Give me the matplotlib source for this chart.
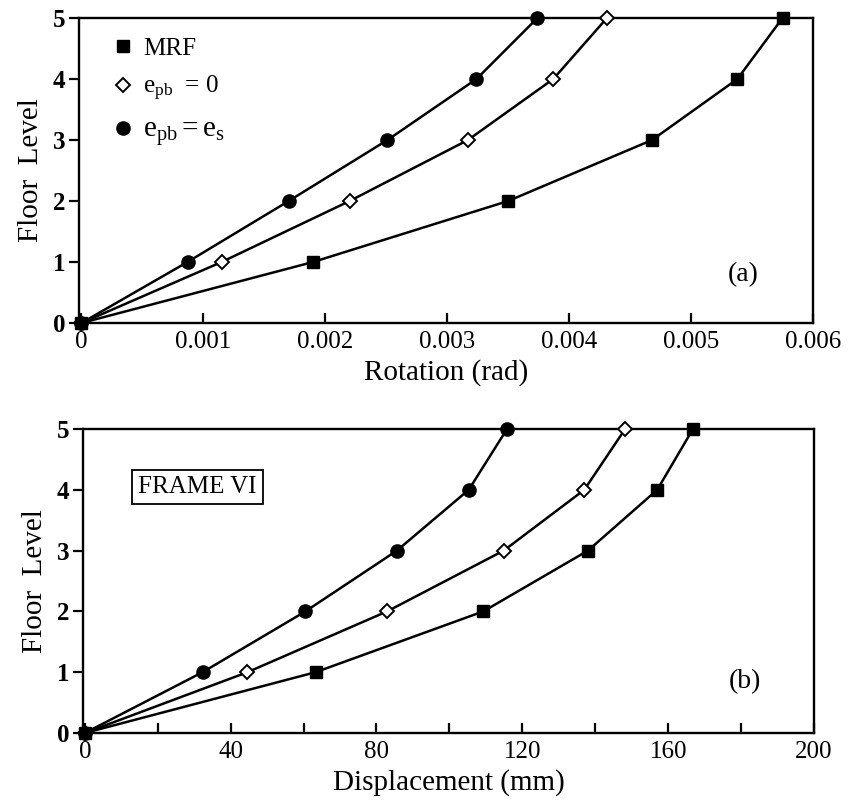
import matplotlib
matplotlib.use('Agg')
import matplotlib.pyplot as plt
from matplotlib.lines import Line2D
from matplotlib.ticker import MultipleLocator

plt.rcParams['font.family'] = ['Liberation Serif', 'DejaVu Serif']
plt.rcParams['mathtext.fontset'] = 'custom'
plt.rcParams['mathtext.rm'] = 'Liberation Serif'
plt.rcParams['mathtext.it'] = 'Liberation Serif:italic'

# ---- data ----
floors = [0, 1, 2, 3, 4, 5]

# (a) rotation (rad)
rot_mrf = [0, 0.00190, 0.00350, 0.00468, 0.00538, 0.00575]
rot_e0 = [0, 0.00115, 0.00220, 0.00317, 0.00387, 0.00431]
rot_es = [0, 0.00087, 0.00170, 0.00251, 0.00324, 0.00374]

# (b) displacement (mm)
disp_mrf = [0, 63.3, 109.3, 138.0, 157.0, 166.8]
disp_e0 = [0, 44.6, 82.9, 114.9, 137.0, 148.2]
disp_es = [0, 32.3, 60.5, 85.6, 105.3, 115.8]

labels = ['MRF', r'$\mathregular{e_{pb}}$  = 0', r'$\mathregular{e_{pb} = e_s}$']
markers = ['s', 'D', 'o']
mstyle = [dict(ms=8, mfc='black'), dict(ms=7, mfc='white', mew=1.4),
          dict(ms=9.5, mfc='black')]

fig = plt.figure(figsize=(8.5, 8.08), dpi=100)
W, H = 850, 808
ax1 = fig.add_axes([79 / W, 1 - 323 / H, (813 - 79) / W, (323 - 18) / H])
ax2 = fig.add_axes([83 / W, 1 - 733 / H, (814 - 83) / W, (733 - 429) / H])


def draw(ax, series):
    for xs, m, st in zip(series, markers, mstyle):
        ax.plot(xs, floors, color='black', lw=1.8, marker=m, mec='black',
                clip_on=False, zorder=3, **st)
    ax.set_ylim(0, 5)
    ax.set_yticks(floors)
    ax.set_ylabel('Floor  Level', fontsize=21, labelpad=6)
    for s in ax.spines.values():
        s.set_linewidth(1.7)
    ax.tick_params(axis='y', direction='out', length=7, width=1.6,
                   labelsize=18, pad=3)
    ax.tick_params(axis='x', direction='in', length=7, width=1.6,
                   labelsize=18, pad=6)
    for t in ax.get_yticklabels():
        t.set_fontweight('bold')


draw(ax1, [rot_mrf, rot_e0, rot_es])
ax1.set_xlim(-0.00002, 0.006)
ax1.set_xticks([0, 0.001, 0.002, 0.003, 0.004, 0.005, 0.006])
ax1.set_xticklabels(['0', '0.001', '0.002', '0.003', '0.004', '0.005', '0.006'])
ax1.set_xlabel('Rotation (rad)', fontsize=21, labelpad=4)
ax1.text(0.905, 0.16, '(a)', transform=ax1.transAxes, fontsize=20,
         ha='center', va='center')

handles = [Line2D([], [], ls='none', marker=m, color='black', mec='black', **st)
           for m, st in zip(markers, mstyle)]
leg = ax1.legend(handles, labels, loc='upper left', frameon=False,
                 fontsize=18, handlelength=0.7, handletextpad=0.45,
                 labelspacing=0.55, borderaxespad=0.2,
                 bbox_to_anchor=(0.028, 0.985))
leg.get_texts()[2].set_fontsize(21)

draw(ax2, [disp_mrf, disp_e0, disp_es])
ax2.set_xlim(-0.5, 200)
ax2.set_xticks([0, 40, 80, 120, 160, 200])
ax2.xaxis.set_minor_locator(MultipleLocator(20))
ax2.tick_params(axis='x', which='minor', direction='in', length=7, width=1.6)
ax2.set_xlabel('Displacement (mm)', fontsize=21, labelpad=4)
ax2.text(0.905, 0.17, '(b)', transform=ax2.transAxes, fontsize=20,
         ha='center', va='center')
ax2.text(0.156, 0.81, 'FRAME VI', transform=ax2.transAxes, fontsize=18,
         ha='center', va='center',
         bbox=dict(boxstyle='square,pad=0.25', fc='white', ec='black', lw=1.3))

fig.savefig('out.png', dpi=100)
